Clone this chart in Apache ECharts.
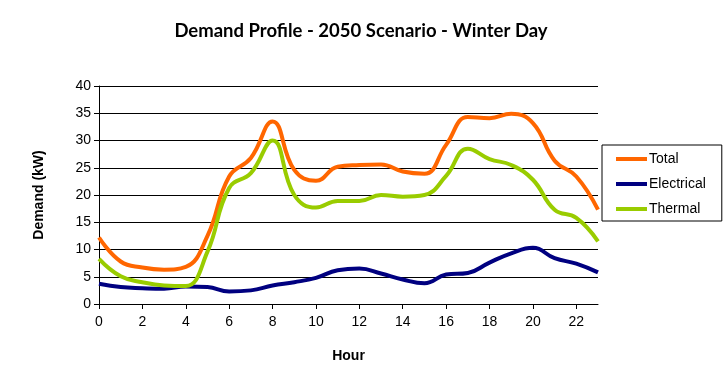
<!DOCTYPE html>
<html>
<head>
<meta charset="utf-8">
<script src="https://cdn.jsdelivr.net/npm/echarts@6/dist/echarts.min.js"></script>
<style>
html,body{margin:0;padding:0;background:#fff;}
#chart{width:725px;height:371px;}
</style>
</head>
<body>
<div id="chart"></div>
<script>
const hours = ['0','1','2','3','4','5','6','7','8','9','10','11','12','13','14','15','16','17','18','19','20','21','22','23'];
const totalVals = [12.2, 7.8, 6.7, 6.3, 6.8, 12.5, 23.4, 26.8, 33.5, 24.6, 22.6, 25.2, 25.5, 25.6, 24.3, 23.9, 29.2, 34.3, 34.1, 34.9, 33.2, 26.3, 23.4, 17.3];
const electricalVals = [3.7, 3.1, 2.9, 2.8, 3.2, 3.1, 2.3, 2.5, 3.4, 4.0, 4.8, 6.2, 6.5, 5.6, 4.5, 3.8, 5.4, 5.7, 7.6, 9.3, 10.3, 8.4, 7.4, 5.8];
const thermalVals = [8.3, 5.1, 4.0, 3.4, 3.3, 9.6, 21.3, 24.0, 30.0, 20.0, 17.7, 18.9, 18.9, 20.0, 19.7, 20.0, 23.5, 28.5, 26.6, 25.5, 22.8, 17.3, 15.8, 11.5];
const yTicks = [0, 5, 10, 15, 20, 25, 30, 35, 40];

const chart = echarts.init(document.getElementById('chart'), null, {renderer: 'canvas'});
const labelFont = {fontFamily: 'Liberation Sans, Arial, sans-serif', fontSize: 14, color: '#000'};
chart.setOption({
  animation: false,
  backgroundColor: '#fff',
  title: {
    text: 'Demand Profile - 2050 Scenario - Winter Day',
    left: 356, top: 17, textAlign: 'center',
    textStyle: {fontFamily: 'Lato, Open Sans, sans-serif', fontWeight: 'bold', fontSize: 18.5, color: '#000'}
  },
  legend: {
    orient: 'vertical',
    left: 602, top: 145,
    padding: [7, 16, 5, 14],
    itemGap: 11,
    itemWidth: 31, itemHeight: 4,
    icon: 'rect',
    borderColor: '#000', borderWidth: 1,
    textStyle: {fontFamily: 'Liberation Sans, Arial, sans-serif', fontSize: 14, color: '#000', padding: [0,0,0,-3]},
    data: ['Total', 'Electrical', 'Thermal']
  },
  grid: {left: 99, right: 127, top: 86, bottom: 67, containLabel: false},
  xAxis: {
    type: 'category',
    data: hours,
    boundaryGap: false,
    name: 'Hour', nameLocation: 'middle', nameGap: 45,
    nameTextStyle: {fontFamily: 'Liberation Sans, Arial, sans-serif', fontWeight: 'bold', fontSize: 14, color: '#000'},
    axisLine: {lineStyle: {color: '#000', width: 1}},
    axisTick: {interval: 1, length: 5, lineStyle: {color: '#000'}},
    axisLabel: Object.assign({interval: 1, margin: 11}, labelFont),
    splitLine: {show: false}
  },
  yAxis: {
    type: 'value',
    min: yTicks[0], max: yTicks[yTicks.length - 1], interval: 5,
    name: 'Demand (kW)', nameLocation: 'middle', nameGap: 53, nameRotate: 90,
    nameTextStyle: {fontFamily: 'Liberation Sans, Arial, sans-serif', fontWeight: 'bold', fontSize: 14, color: '#000'},
    axisLine: {show: true, lineStyle: {color: '#000', width: 1}},
    axisTick: {show: true, length: 5, lineStyle: {color: '#000'}},
    axisLabel: Object.assign({margin: 8}, labelFont),
    splitLine: {show: true, lineStyle: {color: '#000', width: 1}}
  },
  series: [
    {name: 'Total', type: 'line', data: totalVals, smooth: 0.45, showSymbol: false, symbol: 'none',
     lineStyle: {color: '#FF6600', width: 4}, itemStyle: {color: '#FF6600'}, z: 3},
    {name: 'Electrical', type: 'line', data: electricalVals, smooth: 0.45, showSymbol: false, symbol: 'none',
     lineStyle: {color: '#000080', width: 4}, itemStyle: {color: '#000080'}, z: 2},
    {name: 'Thermal', type: 'line', data: thermalVals, smooth: 0.45, showSymbol: false, symbol: 'none',
     lineStyle: {color: '#99CC00', width: 4}, itemStyle: {color: '#99CC00'}, z: 4}
  ]
});
</script>
</body>
</html>
